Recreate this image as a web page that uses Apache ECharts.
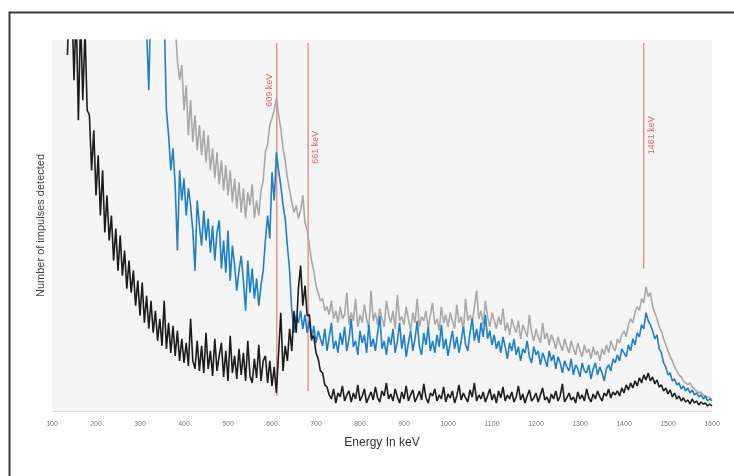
<!DOCTYPE html>
<html><head><meta charset="utf-8">
<script src="https://cdn.jsdelivr.net/npm/echarts@6/dist/echarts.min.js"></script>
<style>html,body{margin:0;padding:0;background:#fff}#c{width:734px;height:476px}</style>
</head><body><div id="c"></div>
<script>
// Channel spacing (keV) and first channel of each spectrum
const step = 5;
const blackStart = 135;
const black = [
355,420,410,330,400,290,395,310,380,300,
295,240,280,215,255,195,240,178,215,170,
195,150,182,140,175,135,160,122,150,118,
140,105,130,95,128,88,115,82,110,78,
100,70,92,65,110,62,88,58,85,55,
80,50,72,48,68,45,92,50,42,70,
40,65,38,78,42,60,35,72,40,55,
68,34,60,30,75,38,55,32,62,36,
58,30,70,35,28,52,33,66,30,50,
55,28,50,25,44,18,58,98,40,65,
50,82,60,100,78,122,145,105,125,95,
96,72,75,58,52,40,38,26,24,16,
12,22,8,18,14,25,10,16,20,9,
18,12,26,10,15,22,8,14,19,11,
24,13,9,20,15,28,12,17,10,22,
14,8,19,12,25,10,16,21,9,14,
20,11,27,13,8,18,15,22,10,16,
12,24,9,17,13,20,8,15,26,11,
18,13,9,21,14,28,10,16,12,19,
9,15,22,11,17,8,20,13,24,10,
16,12,19,9,14,25,11,17,8,15,
21,10,13,18,9,16,23,11,14,8,
17,12,20,10,15,27,9,13,18,11,
14,8,19,12,16,10,22,13,9,17,
12,20,14,10,18,15,22,13,19,16,
20,15,23,18,26,21,28,23,30,25,
33,28,36,31,38,30,34,27,31,24,
26,20,23,17,21,14,18,12,15,10,
13,9,11,7,12,8,10,6,9,7,
8,5,7,5
];
const blueStart = 315;
const blue = [
380,320,420,450,460,440,430,410,395,300,
275,240,262,225,160,240,210,232,195,222,
205,180,140,210,185,165,200,170,192,158,
185,150,178,190,142,170,138,180,130,165,
145,120,140,155,130,100,150,118,142,112,
132,105,125,140,170,195,172,238,210,258,
240,225,205,192,165,140,100,78,95,88,
100,82,96,78,90,70,85,68,80,72,
65,82,60,74,88,62,70,58,78,66,
84,60,72,92,64,70,56,80,68,76,
58,86,64,72,60,78,95,62,70,56,
74,66,82,58,70,88,62,76,54,68,
80,60,72,90,64,56,78,66,84,60,
70,58,76,64,86,62,72,55,68,80,
62,74,58,70,84,66,60,78,92,70,
82,68,88,74,96,72,80,66,76,62,
70,58,74,64,52,68,60,72,56,64,
50,62,58,70,54,48,64,56,60,46,
58,52,44,60,50,56,42,54,48,38,
50,44,40,52,36,46,42,34,48,40,
38,46,32,42,48,36,44,38,30,42,
46,40,52,48,56,50,62,58,54,66,
60,72,66,78,74,86,82,98,90,86,
80,72,76,62,58,48,44,36,38,30,
32,26,28,22,25,20,23,18,21,16,
18,14,16,12,15,10,12,10
];
const greyStart = 350;
const grey = [
420,440,430,450,410,400,385,350,330,345,
300,325,275,310,268,295,260,285,255,280,
248,275,240,262,232,258,226,250,220,245,
215,240,208,232,202,228,198,222,192,218,
205,226,192,210,195,220,230,258,266,285,
292,300,312,295,282,262,250,232,220,208,
198,205,192,200,215,188,180,165,150,140,
125,118,110,112,100,104,96,110,92,100,
88,104,92,96,118,86,98,90,112,84,
96,88,106,92,82,120,90,98,86,102,
92,84,110,96,88,100,82,116,90,94,
86,104,92,80,98,88,112,84,94,90,
100,82,96,108,86,92,80,104,88,96,
84,98,90,82,106,88,94,80,112,90,
96,88,104,120,92,100,86,110,94,84,
98,90,82,94,86,102,80,88,76,92,
84,78,90,72,86,80,74,96,78,70,
82,74,68,88,72,78,66,76,70,62,
74,66,60,72,64,58,70,62,56,68,
60,54,66,58,62,52,64,56,60,50,
62,56,66,58,70,64,60,72,68,76,
80,74,86,92,88,98,104,100,112,108,
124,114,118,105,98,92,84,80,72,66,
60,54,50,44,40,36,34,30,28,26,
28,24,22,20,18,19,16,15,14,13,
12
];
// Reference lines
const markerNames = ['609 keV', '661 keV', '1461 keV'];
const markerEnergy = [611, 682, 1445];
const markerTop = [367, 367, 367];
const markerBottom = [15, 20, 142];
const xMin = 100, xMax = 1600, xInterval = 100;

// ---- layout / style ----
const labelSide = [-1, 1, 1];      // label left (-1) or right (1) of its line
const labelHeight = [320, 263, 275];
const labelGapKeV = 17;
const RED = '#e03c3c';

function pairs(start, arr) { return arr.map((v, i) => [start + i * step, v]); }

const series = [];
markerEnergy.forEach((e, i) => {
  series.push({
    type: 'line', silent: true, symbol: 'none', z: 1,
    lineStyle: { color: RED, width: 1, opacity: 0.8 },
    data: [[e, markerBottom[i]], [e, markerTop[i]]]
  });
});
series.push({
  type: 'line', name: 'grey', symbol: 'none', z: 2, data: pairs(greyStart, grey),
  lineStyle: { color: '#a8a8a8', width: 1.6 }
});
series.push({
  type: 'line', name: 'blue', symbol: 'none', z: 3, data: pairs(blueStart, blue),
  lineStyle: { color: '#1f7fc6', width: 1.6 }
});
series.push({
  type: 'line', name: 'black', symbol: 'none', z: 4, data: pairs(blackStart, black),
  lineStyle: { color: '#1c1c1c', width: 1.6 }
});
series.push({
  type: 'scatter', silent: true, z: 5, symbolSize: 2,
  itemStyle: { color: 'rgba(0,0,0,0)' },
  data: markerNames.map((n, i) => ({
    name: n, value: [markerEnergy[i] + labelSide[i] * labelGapKeV, labelHeight[i]]
  })),
  label: {
    show: true, position: 'inside', rotate: 90, formatter: '{b}',
    color: RED, fontSize: 9, fontFamily: 'Liberation Sans'
  },
  labelLayout: { hideOverlap: false }
});

const chart = echarts.init(document.getElementById('c'), null, { renderer: 'canvas' });
chart.setOption({
  animation: false,
  backgroundColor: '#ffffff',
  textStyle: { fontFamily: 'Liberation Sans' },
  grid: { left: 52, right: 22, top: 40, bottom: 65, show: true, backgroundColor: '#f5f5f5', borderWidth: 0 },
  xAxis: {
    type: 'value', min: xMin, max: xMax, interval: xInterval,
    name: 'Energy In keV', nameLocation: 'middle', nameGap: 26,
    nameTextStyle: { fontSize: 12, color: '#333' },
    axisLine: { show: true, lineStyle: { color: '#dcdcdc' } },
    axisTick: { show: false },
    splitLine: { show: false },
    axisLabel: { fontSize: 7, color: '#777', margin: 10, formatter: v => String(v) }
  },
  yAxis: {
    type: 'value', min: 0, max: 370,
    name: 'Number of impulses detected', nameLocation: 'middle', nameGap: 6,
    nameTextStyle: { fontSize: 11, color: '#444' },
    axisLine: { show: false }, axisTick: { show: false },
    axisLabel: { show: false }, splitLine: { show: false }
  },
  graphic: [{
    type: 'rect', left: 7, top: 10, silent: true,
    shape: { width: 760, height: 500 },
    style: { fill: 'none', stroke: '#3a3a3a', lineWidth: 2 }
  }],
  series: series
});
</script></body></html>
